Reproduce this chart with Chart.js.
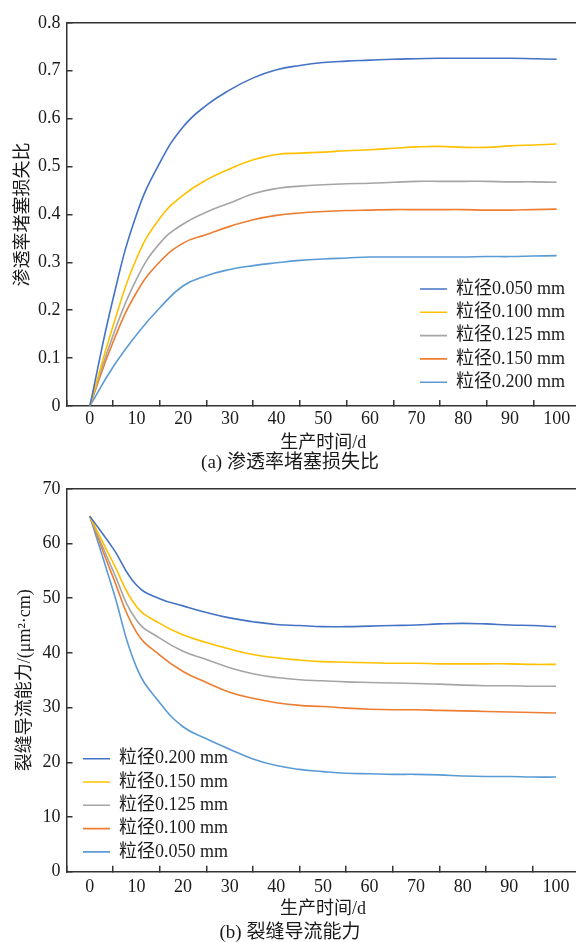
<!DOCTYPE html>
<html><head><meta charset="utf-8">
<script src="https://cdn.jsdelivr.net/npm/chart.js@4"></script>
<style>
html,body{margin:0;padding:0;background:#fff;overflow:hidden;width:576px;height:942px;position:relative;}
#c1{position:absolute;left:0;top:0;}
#c2{position:absolute;left:0;top:466px;}
</style></head><body>
<canvas id="c1" width="580" height="480"></canvas>
<canvas id="c2" width="580" height="476"></canvas>
<script>
// ---- data ----
const days = [0,5,10,15,20,25,30,35,40,45,50,55,60,65,70,75,80,85,90,95,100];
const xTickLabels = ['0','10','20','30','40','50','60','70','80','90','100'];
const yTickLabelsA = ['0','0.1','0.2','0.3','0.4','0.5','0.6','0.7','0.8'];
const yTickLabelsB = ['0','10','20','30','40','50','60','70'];

const permLabels = ['粒径0.050 mm','粒径0.100 mm','粒径0.125 mm','粒径0.150 mm','粒径0.200 mm'];
const perm050 = [0,0.225,0.400,0.508,0.583,0.628,0.660,0.685,0.702,0.711,0.717,0.720,0.722,0.724,0.725,0.726,0.726,0.726,0.726,0.725,0.724];
const perm100 = [0,0.168,0.308,0.392,0.440,0.472,0.495,0.514,0.525,0.528,0.530,0.533,0.535,0.538,0.541,0.542,0.540,0.540,0.543,0.545,0.547];
const perm125 = [0,0.148,0.265,0.340,0.380,0.405,0.424,0.443,0.454,0.459,0.462,0.464,0.465,0.467,0.469,0.469,0.469,0.469,0.468,0.468,0.467];
const perm150 = [0,0.134,0.237,0.301,0.340,0.358,0.375,0.389,0.398,0.403,0.406,0.408,0.409,0.410,0.410,0.410,0.410,0.409,0.409,0.410,0.411];
const perm200 = [0,0.082,0.149,0.205,0.251,0.272,0.285,0.293,0.299,0.304,0.307,0.309,0.311,0.311,0.311,0.311,0.311,0.312,0.312,0.313,0.314];

const condLabels = ['粒径0.200 mm','粒径0.150 mm','粒径0.125 mm','粒径0.100 mm','粒径0.050 mm'];
const cond200 = [65,59.1,52.4,49.9,48.6,47.4,46.4,45.7,45.2,45.0,44.8,44.8,44.9,45.0,45.1,45.3,45.4,45.3,45.1,45.0,44.8];
const cond150 = [65,56.5,48.5,45.4,43.3,41.9,40.7,39.7,39.1,38.7,38.4,38.3,38.2,38.1,38.1,38.0,38.0,38.0,38.0,37.9,37.9];
const cond125 = [65,55.0,46.0,42.7,40.3,38.8,37.3,36.2,35.5,35.1,34.9,34.7,34.6,34.5,34.4,34.3,34.1,34.0,34.0,33.9,33.9];
const cond100 = [65,53.8,43.8,39.6,36.6,34.6,32.8,31.7,30.9,30.4,30.2,29.9,29.7,29.6,29.6,29.5,29.4,29.3,29.2,29.1,29.0];
const cond050 = [65,51.4,37.4,30.9,26.5,24.3,22.4,20.6,19.4,18.7,18.3,18.0,17.9,17.8,17.8,17.7,17.5,17.4,17.4,17.3,17.3];

const palette = ['#4472C4','#FFC000','#A5A5A5','#ED7D31','#5B9BD5'];

// ---- styling ----
const SERIF = "'Liberation Serif','Noto Sans CJK SC',serif";
const AXIS = '#333333';
const TXT = '#1a1a1a';
const f18 = {size: 18, family: SERIF, weight: 'normal'};

const placeLegend = {
  id: 'placeLegend',
  afterLayout(chart, args, opts) {
    const lg = chart.legend;
    if (!lg) return;
    const pad = lg.options.labels.padding;
    lg.left = opts.x - pad;
    lg.top = opts.y - pad;
    lg.right = lg.left + 260;
    lg.bottom = lg.top + 200;
  }
};

function buildChart(el, p) {
  return new Chart(el, {
    type: 'line',
    data: {
      datasets: p.labels.map((lab, k) => ({
        label: lab,
        data: days.map((d, i) => ({x: d, y: p.values[k][i]})),
        borderColor: palette[k],
        backgroundColor: palette[k],
        borderWidth: 1.6,
        pointRadius: 0,
        tension: 0.45,
        fill: false,
        xAxisID: 'xd',
        yAxisID: 'y'
      }))
    },
    options: {
      responsive: false,
      animation: false,
      devicePixelRatio: 1,
      layout: {padding: 0},
      plugins: {
        legend: {
          position: 'chartArea', align: 'start',
          labels: {font: f18, color: TXT, usePointStyle: true, pointStyle: 'line', pointStyleWidth: 27, padding: 5.3}
        },
        title: {
          display: true, position: 'bottom', text: p.caption,
          font: {size: 19, family: SERIF, weight: 'normal'}, color: TXT,
          padding: {top: 0, bottom: p.captionPad}
        },
        tooltip: {enabled: false},
        placeLegend: {x: p.legendX, y: p.legendY}
      },
      scales: {
        xd: {type: 'linear', min: -5, max: 105, display: false},
        x: {
          type: 'category', labels: xTickLabels, offset: true, position: 'bottom',
          grid: {offset: true, drawOnChartArea: false, tickLength: -6, color: AXIS, lineWidth: 1.5},
          border: {color: AXIS, width: 1.5},
          ticks: {padding: p.xTickPad, font: f18, color: TXT, maxRotation: 0, autoSkip: false},
          title: {display: true, text: '生产时间/d', font: f18, color: TXT, padding: {top: 0, bottom: p.xTitlePad}},
          afterFit: s => { s.height = p.xAxisH; }
        },
        xt: {
          type: 'linear', position: 'top', display: true,
          ticks: {display: false}, grid: {display: false},
          border: {color: AXIS, width: 1.5},
          afterFit: s => { s.height = p.topH; }
        },
        y: {
          type: 'linear', position: 'left', min: p.yMin, max: p.yMax,
          ticks: {stepSize: p.yStep, padding: 12, font: f18, color: TXT, callback: (v, i) => p.yTicks[i]},
          grid: {drawOnChartArea: false, tickLength: -6, color: AXIS, lineWidth: 1.5},
          border: {color: AXIS, width: 1.5},
          title: {display: true, text: p.yTitle, font: f18, color: TXT, padding: {top: p.yTitlePad, bottom: 0}},
          afterFit: s => { s.width = 66.5; }
        }
      }
    },
    plugins: [placeLegend]
  });
}

buildChart(document.getElementById('c1'), {
  labels: permLabels,
  values: [perm050, perm100, perm125, perm150, perm200],
  caption: '(a) 渗透率堵塞损失比',
  captionPad: 5.1,
  xAxisH: 46.1, xTickPad: 8.2, xTitlePad: -2.2,
  topH: 15,
  yMin: 0, yMax: 0.8, yStep: 0.1, yTicks: yTickLabelsA,
  yTitle: '渗透率堵塞损失比', yTitlePad: 12,
  legendX: 420, legendY: 280
});

buildChart(document.getElementById('c2'), {
  labels: condLabels,
  values: [cond200, cond150, cond125, cond100, cond050],
  caption: '(b) 裂缝导流能力',
  captionPad: -2.4,
  xAxisH: 49.9, xTickPad: 10.5, xTitlePad: 1.8,
  topH: 15.3,
  yMin: 0, yMax: 70, yStep: 10, yTicks: yTickLabelsB,
  yTitle: '裂缝导流能力/(μm²·cm)', yTitlePad: 14,
  legendX: 83, legendY: 283.7
});
</script>
</body></html>
